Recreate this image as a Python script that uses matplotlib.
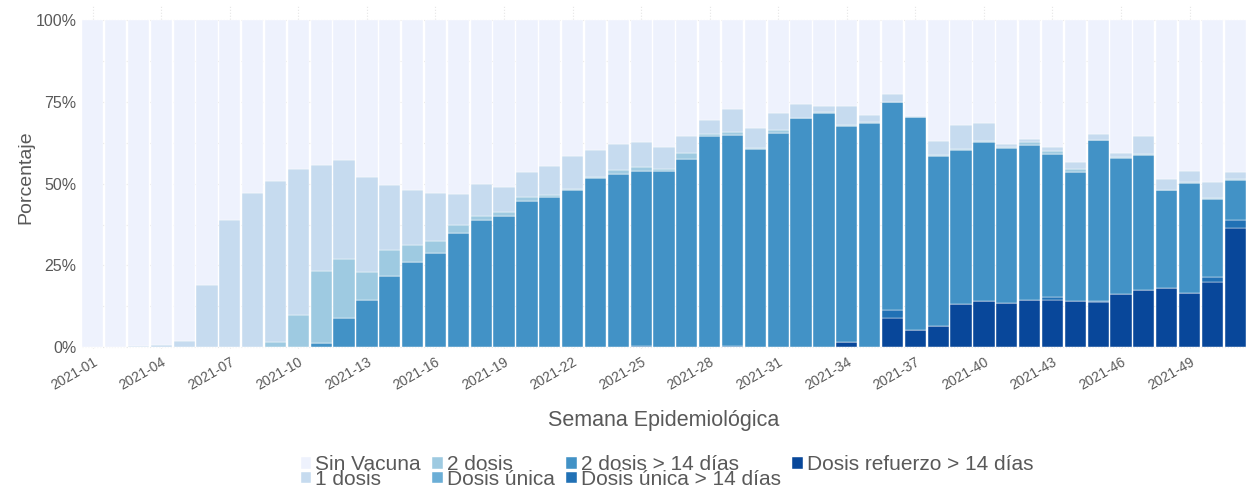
import matplotlib.pyplot as plt
import numpy as np

# weeks 2021-01 .. 2021-51
semanas = [f"2021-{i:02d}" for i in range(1, 52)]

# percentage per category (bottom to top of each stacked bar)
refuerzo_14 = [0, 0, 0, 0, 0, 0, 0, 0, 0, 0,
               0, 0, 0, 0, 0, 0, 0, 0, 0, 0,
               0, 0, 0, 0, 0, 0, 0, 0, 0, 0,
               0, 0, 0, 1.4, 0, 8.9, 5.2, 6.3, 13.1, 14.1,
               13.6, 14.3, 14.5, 14.0, 13.7, 16.2, 17.6, 18.2, 16.5, 19.9,
               36.5]
unica_14 = [0, 0, 0, 0, 0, 0, 0, 0, 0, 0,
            0, 0, 0, 0, 0, 0, 0, 0, 0, 0,
            0, 0, 0, 0, 0.2, 0, 0, 0, 0.4, 0,
            0, 0, 0, 0, 0, 2.3, 0, 0, 0, 0,
            0, 0, 0.7, 0, 0.5, 0, 0, 0, 0, 1.5,
            2.5]
dos_14 = [0, 0, 0, 0, 0, 0, 0, 0, 0, 0,
          1.1, 9.0, 14.5, 21.8, 26.0, 28.8, 35.0, 38.9, 40.2, 44.7,
          45.9, 48.1, 51.7, 52.9, 53.8, 54.0, 57.7, 64.7, 64.4, 60.6,
          65.6, 70.0, 71.7, 66.3, 68.7, 63.9, 65.1, 52.3, 47.2, 48.8,
          47.3, 47.6, 44.0, 39.7, 49.1, 41.7, 41.2, 29.8, 33.8, 23.9,
          12.2]
unica = [0] * 51
dos = [0, 0, 0, 0, 0, 0, 0, 0, 1.5, 9.8,
       22.2, 18.0, 8.5, 7.9, 5.3, 3.8, 2.3, 1.2, 1.1, 1.2,
       0.6, 0.3, 0.5, 1.2, 1.1, 0.4, 1.8, 0.4, 1.0, 0.2,
       0.7, 0.2, 0.2, 0.2, 0.3, 0, 0, 0.2, 0.2, 0.2,
       0.2, 1.0, 0.9, 0.7, 0.2, 0.3, 0.2, 0.2, 0.2, 0.2,
       0.2]
uno = [0, 0, 0.3, 0.6, 1.8, 18.9, 38.8, 47.3, 49.3, 44.8,
       32.5, 30.2, 28.9, 19.9, 16.8, 14.5, 9.5, 9.7, 7.6, 7.8,
       9.0, 10.2, 8.0, 7.9, 7.8, 6.8, 5.1, 4.3, 7.1, 6.3,
       5.2, 4.2, 1.9, 5.9, 2.0, 2.3, 0.3, 4.3, 7.4, 5.5,
       1.0, 0.7, 1.2, 2.1, 1.6, 1.3, 5.6, 3.1, 3.4, 5.1,
       2.1]

series = [
    ("Dosis refuerzo > 14 días", refuerzo_14, "#08479a"),
    ("Dosis única > 14 días", unica_14, "#2171b5"),
    ("2 dosis > 14 días", dos_14, "#4292c6"),
    ("Dosis única", unica, "#6baed6"),
    ("2 dosis", dos, "#9ecae1"),
    ("1 dosis", uno, "#c6dbef"),
]

fuente = ['Liberation Sans', 'DejaVu Sans']
plt.rcParams['font.family'] = fuente
gris = "#595959"

x = np.arange(len(semanas))
fig = plt.figure(figsize=(12.46, 4.87), dpi=100)
ax = fig.add_axes([82 / 1246, 1 - 349 / 487, 1 - 82 / 1246, 344 / 487])

bottom = np.zeros(len(x))
handles = {}
for name, vals, color in series:
    v = np.array(vals) / 100
    handles[name] = ax.bar(x, v, 0.93, bottom=bottom, color=color,
                           edgecolor="white", linewidth=0.3, zorder=2)
    bottom = bottom + v
sin_vacuna = 1 - bottom
handles["Sin Vacuna"] = ax.bar(x, sin_vacuna, 0.93, bottom=bottom, color="#eef2fd",
                               edgecolor="white", linewidth=0.3, zorder=2)

ax.set_xlim(-0.47, 50.47)
ax.set_ylim(-0.006, 1.047)
ax.set_yticks([0, 0.25, 0.5, 0.75, 1.0])
ax.set_yticklabels(["0%", "25%", "50%", "75%", "100%"], fontsize=11.5, color=gris)
ax.set_yticks([0.125, 0.375, 0.625, 0.875], minor=True)
ax.set_xticks(x[::3])
ax.set_xticklabels(semanas[::3], rotation=30, ha="right", rotation_mode="anchor",
                   fontsize=10, color=gris)
ax.tick_params(length=0, which="both", pad=4)
ax.grid(True, which="both", color="#e6e6e6", linestyle=":", linewidth=0.8, zorder=0)
ax.set_axisbelow(True)
for s in ax.spines.values():
    s.set_visible(False)

ax.set_xlabel("Semana Epidemiológica", fontsize=15.5, color=gris, labelpad=13)
ax.set_ylabel("Porcentaje", fontsize=14, color=gris, labelpad=1)

order = ["Sin Vacuna", "1 dosis", "2 dosis", "Dosis única", "2 dosis > 14 días",
         "Dosis única > 14 días", "Dosis refuerzo > 14 días"]
leg = fig.legend([handles[k] for k in order], order, loc="center",
                 bbox_to_anchor=(667 / 1246, 1 - 472 / 487), ncol=4, frameon=False,
                 prop={"size": 15},
                 handlelength=0.5, handleheight=0.5, handletextpad=0.2,
                 columnspacing=0.55, labelspacing=-0.2, borderpad=0)
for t in leg.get_texts():
    t.set_color(gris)

fig.savefig("out.png", dpi=100)
